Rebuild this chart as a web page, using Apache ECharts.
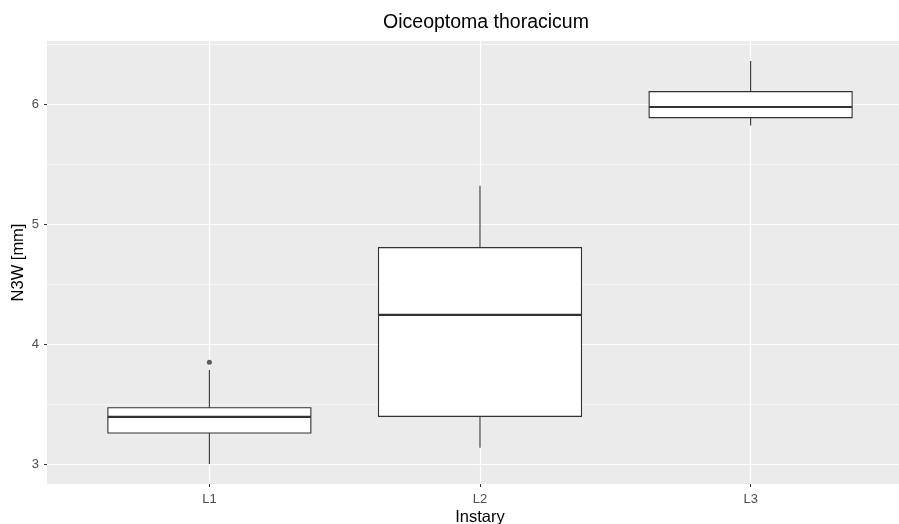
<!DOCTYPE html>
<html>
<head>
<meta charset="utf-8">
<script src="https://cdn.jsdelivr.net/npm/echarts@6/dist/echarts.min.js"></script>
<style>
  html, body { margin: 0; padding: 0; background: #fff; }
  #main { width: 899px; height: 524px; }
</style>
</head>
<body>
<div id="main"></div>
<script>
var categories = ["L1", "L2", "L3"];
var mins = [3.0, 3.136, 5.82];
var q1s = [3.258, 3.397, 5.886];
var medians = [3.392, 4.242, 5.975];
var q3s = [3.469, 4.803, 6.103];
var maxs = [3.783, 5.319, 6.358];
var outliers = [[1, 3.847]];
var yTicks = [3, 4, 5, 6];
var yMinor = [3.5, 4.5, 5.5, 6.5];

var boxData = categories.map(function (c, i) {
  return [i + 1, mins[i], q1s[i], medians[i], q3s[i], maxs[i]];
});

var font = "'Liberation Sans', Arial, sans-serif";
var myChart = echarts.init(document.getElementById("main"));

myChart.setOption({
  animation: false,
  title: {
    text: "Oiceoptoma thoracicum",
    left: 481,
    top: 8,
    textAlign: "center",
    textStyle: { fontFamily: font, fontSize: 19.5, fontWeight: "normal", color: "#000" }
  },
  grid: {
    left: 47,
    top: 41,
    width: 866,
    height: 443,
    outerBoundsMode: "none",
    containLabel: false,
    show: true,
    backgroundColor: "#EBEBEB",
    borderWidth: 0
  },
  xAxis: {
    type: "value",
    min: 0.4,
    max: 3.6,
    name: "Instary",
    nameLocation: "middle",
    nameGap: 25,
    nameMoveOverlap: false,
    nameTextStyle: { fontFamily: font, fontSize: 16.5, color: "#000" },
    axisLine: { show: false },
    axisTick: { show: true, length: 3, customValues: [1, 2, 3], lineStyle: { color: "#333" } },
    axisLabel: {
      customValues: [1, 2, 3],
      margin: 9,
      fontFamily: font,
      fontSize: 13,
      color: "#4D4D4D",
      formatter: function (v) { return categories[Math.round(v) - 1]; }
    },
    splitLine: { show: true, lineStyle: { color: "#fff", width: 1.2 } }
  },
  yAxis: [
    {
      type: "value",
      min: 2.833,
      max: 6.525,
      name: "N3W [mm]",
      nameLocation: "middle",
      nameGap: 20,
      nameMoveOverlap: false,
      nameTextStyle: { fontFamily: font, fontSize: 16.5, color: "#000" },
      axisLine: { show: false },
      axisTick: { show: true, length: 3, customValues: yTicks, lineStyle: { color: "#333" } },
      axisLabel: { customValues: yTicks, margin: 8, fontFamily: font, fontSize: 13, color: "#4D4D4D" },
      splitLine: { show: true, lineStyle: { color: "#fff", width: 1.2 } }
    },
    {
      type: "value",
      min: 2.833,
      max: 6.525,
      position: "right",
      axisLine: { show: false },
      axisTick: { show: false, customValues: yMinor },
      axisLabel: { show: false, customValues: yMinor },
      splitLine: { show: true, lineStyle: { color: "#fff", width: 0.6 } }
    }
  ],
  series: [
    {
      type: "custom",
      data: boxData,
      encode: { x: 0, y: [1, 2, 3, 4, 5] },
      z: 3,
      renderItem: function (params, api) {
        var x = api.value(0);
        var half = api.size([0.75, 0])[0] / 2;
        var pMin = api.coord([x, api.value(1)]);
        var pQ1 = api.coord([x, api.value(2)]);
        var pMed = api.coord([x, api.value(3)]);
        var pQ3 = api.coord([x, api.value(4)]);
        var pMax = api.coord([x, api.value(5)]);
        var cx = pMed[0];
        var line = { stroke: "#333333", lineWidth: 1.1 };
        return {
          type: "group",
          children: [
            { type: "line", shape: { x1: cx, y1: pMax[1], x2: cx, y2: pQ3[1] }, style: line },
            { type: "line", shape: { x1: cx, y1: pQ1[1], x2: cx, y2: pMin[1] }, style: line },
            {
              type: "rect",
              shape: { x: cx - half, y: pQ3[1], width: half * 2, height: pQ1[1] - pQ3[1] },
              style: { fill: "#fff", stroke: "#333333", lineWidth: 1.1 }
            },
            { type: "line", shape: { x1: cx - half, y1: pMed[1], x2: cx + half, y2: pMed[1] }, style: { stroke: "#333333", lineWidth: 2.2 } }
          ]
        };
      }
    },
    {
      type: "scatter",
      data: outliers,
      symbolSize: 5,
      z: 4,
      itemStyle: { color: "#333333" }
    }
  ]
});
</script>
</body>
</html>
